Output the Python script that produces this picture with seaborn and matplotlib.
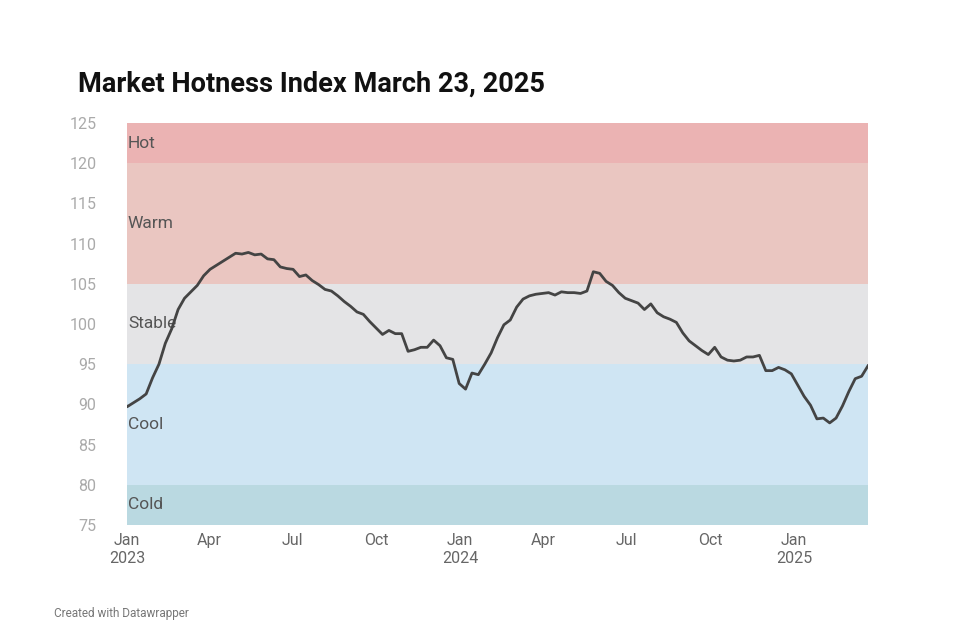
import matplotlib
matplotlib.use("Agg")
import matplotlib.pyplot as plt
import seaborn as sns
import pandas as pd

values = [93.8, 92.5, 90.8, 89.7, 90.2, 90.7, 91.3, 93.3, 95.0, 97.6, 99.4, 101.8, 103.2, 104.0,
          104.8, 106.0, 106.8, 107.3, 107.8, 108.3, 108.8, 108.7, 108.9, 108.6, 108.7, 108.1, 108.0,
          107.1, 106.9, 106.8, 105.9, 106.1, 105.4, 104.9, 104.3, 104.1, 103.5, 102.8, 102.2, 101.5,
          101.2, 100.3, 99.5, 98.7, 99.2, 98.8, 98.8, 96.6, 96.8, 97.1, 97.1, 98.0, 97.3, 95.8, 95.6,
          92.6, 91.9, 93.9, 93.7, 95.0, 96.4, 98.3, 99.9, 100.5, 102.1, 103.1, 103.5, 103.7, 103.8,
          103.9, 103.6, 104.0, 103.9, 103.9, 103.8, 104.1, 106.5, 106.3, 105.3, 104.8, 103.9, 103.2,
          102.9, 102.6, 101.8, 102.5, 101.4, 100.9, 100.6, 100.2, 98.9, 97.9, 97.3, 96.7, 96.2, 97.1,
          95.9, 95.5, 95.4, 95.5, 95.9, 95.9, 96.1, 94.2, 94.2, 94.6, 94.3, 93.8, 92.4, 91.0, 89.9,
          88.2, 88.3, 87.7, 88.3, 89.8, 91.6, 93.2, 93.5, 94.8]
dates = pd.date_range(end="2025-03-23", periods=len(values), freq="7D")

band_names = ["Cold", "Cool", "Stable", "Warm", "Hot"]
band_low = [75, 80, 95, 105, 120]
band_high = [80, 95, 105, 120, 125]
band_colors = ["#bad9e1", "#cfe5f3", "#e4e4e6", "#eac6c1", "#ebb3b3"]

tick_dates = ["2023-01-01", "2023-04-01", "2023-07-01", "2023-10-01", "2024-01-01", "2024-04-01",
              "2024-07-01", "2024-10-01", "2025-01-01"]
tick_labels = ["Jan\n2023", "Apr", "Jul", "Oct", "Jan\n2024", "Apr", "Jul", "Oct", "Jan\n2025"]

df = pd.DataFrame({"date": dates, "value": values})

fig = plt.figure(figsize=(9.6, 6.4), dpi=100)
ax = fig.add_axes([127/960, 1-525/640, (868-127)/960, (525-123)/640])
xmin, xmax = pd.Timestamp("2023-01-01"), dates[-1]
for n, lo, hi, c in zip(band_names, band_low, band_high, band_colors):
    ax.axhspan(lo, hi, color=c, lw=0, zorder=0)
    mid = (lo + hi) / 2
    ypos = mid if n != "Cool" else 87.5
    ax.text(xmin + pd.Timedelta(days=1), ypos if n not in ("Hot",) else 122.5, n,
            fontsize=12.5, color="#555555", va="center", ha="left", fontfamily="Roboto")
sns.lineplot(data=df, x="date", y="value", ax=ax, color="#444444", lw=2, zorder=3)
ax.set_xlim(xmin, xmax)
ax.set_ylim(75, 125)
ax.set_yticks(range(75, 126, 5))
ax.set_xticks(pd.to_datetime(tick_dates))
ax.set_xticklabels(tick_labels)
ax.set_xlabel("")
ax.set_ylabel("")
for s in ax.spines.values():
    s.set_visible(False)
ax.tick_params(axis="y", length=0, pad=22, labelsize=11.5, labelcolor="#aaaaaa")
ax.tick_params(axis="x", length=0, pad=6, labelsize=11.5, labelcolor="#666666")
for lbl in ax.get_yticklabels() + ax.get_xticklabels():
    lbl.set_fontfamily("Roboto")
fig.text(78/960, 1-84/640, "Market Hotness Index March 23, 2025", fontsize=19.5,
         fontweight="bold", fontfamily="Roboto", va="center", ha="left", color="#111111")
fig.text(54/960, 1-613/640, "Created with Datawrapper", fontsize=8.5, color="#777777",
         fontfamily="Roboto", va="center")
fig.savefig("out.png", dpi=100)
